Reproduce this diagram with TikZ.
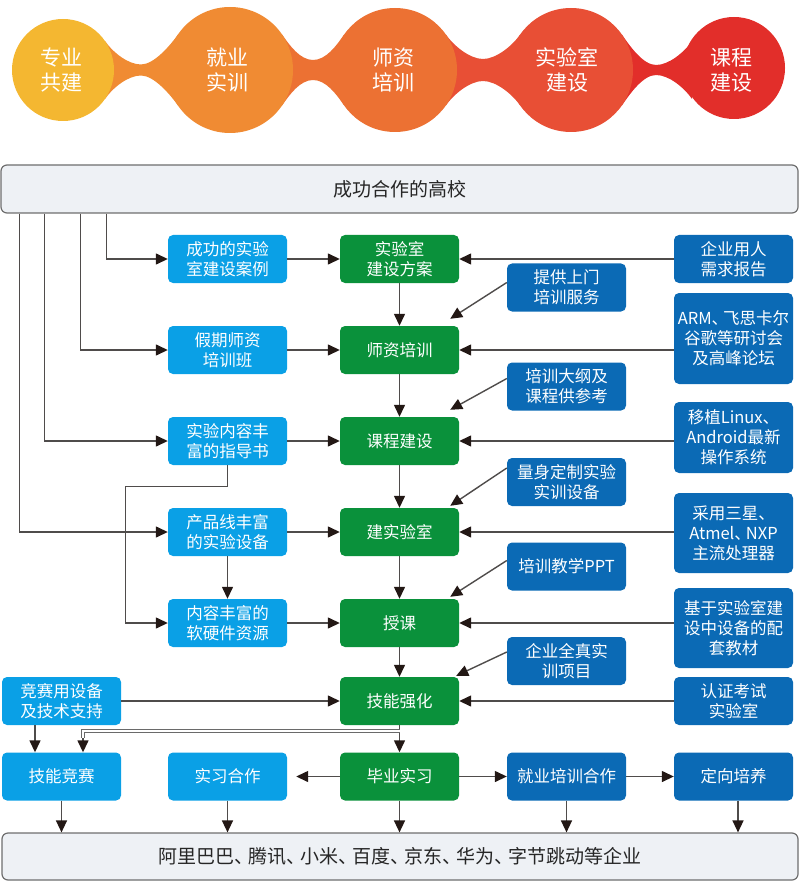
\documentclass[tikz,border=0pt]{standalone}
\usepackage{fontspec}
\newfontfamily\cjk{Noto Sans CJK SC}
\usetikzlibrary{arrows.meta,calc}
\definecolor{cya}{HTML}{F4B731}
\definecolor{cyb}{HTML}{F08B33}
\definecolor{cyc}{HTML}{EC7133}
\definecolor{cyd}{HTML}{E84F35}
\definecolor{cye}{HTML}{E22E2A}
\definecolor{lblue}{HTML}{0AA0E6}
\definecolor{dblue}{HTML}{0B6AB5}
\definecolor{grn}{HTML}{0A913B}
\definecolor{barfill}{HTML}{EEF1F5}
\definecolor{barline}{HTML}{6E6E6E}
\definecolor{lnc}{HTML}{4F4C4B}
\definecolor{tipc}{HTML}{231815}
\definecolor{dblc}{HTML}{6A6A6A}
\newcommand\dun{、\kern-5pt}
\newcommand\bubneck[7]{%
 \pgfmathsetmacro\nkax{#1+#2*cos(35)}%
 \pgfmathsetmacro\nkay{70-#2*sin(35)}%
 \pgfmathsetmacro\nkby{70+#2*sin(35)}%
 \pgfmathsetmacro\nkbx{#3-#4*cos(35)}%
 \pgfmathsetmacro\nkcy{70-#4*sin(35)}%
 \pgfmathsetmacro\nkdy{70+#4*sin(35)}%
 \pgfmathsetmacro\nkt{70-#6}%
 \pgfmathsetmacro\nkb{70+#6}%
 \fill[#7] (\nkax,\nkay) .. controls +(8,11.5) and +(-13,0) .. (#5,\nkt) .. controls +(13,0) and +(-8,11.5) .. (\nkbx,\nkcy) -- (\nkbx,\nkdy) .. controls +(-8,-11.5) and +(13,0) .. (#5,\nkb) .. controls +(-13,0) and +(8,-11.5) .. (\nkax,\nkby) -- cycle;
}
\tikzset{
 box/.style={rounded corners=5pt, minimum width=119pt, minimum height=48pt, inner sep=0pt, text=white, align=center, font=\cjk\fontsize{16.5}{20}\selectfont},
 lbox/.style={box, fill=lblue},
 dbox/.style={box, fill=dblue},
 gbox/.style={box, fill=grn},
 bar/.style={draw=barline, line width=1.2pt, fill=barfill, rounded corners=6pt, inner sep=0pt, font=\cjk\fontsize{19}{22}\selectfont, text=black!85},
 arr/.style={draw=lnc, line width=1.4pt, -{Triangle[length=12pt,width=11pt,color=tipc]}},
 conn/.style={draw=lnc, line width=1.4pt},
 dbl/.style={draw=dblc, line width=1pt, double=white, double distance=1.6pt},
 bub/.style={text=white, align=center, font=\cjk\fontsize{21}{25}\selectfont},
}
\begin{document}
\begin{tikzpicture}[x=1pt,y=-1pt]
\useasboundingbox (0,0) rectangle (800,882);
% ---- top bubbles ----
\bubneck{63}{51}{230}{63}{141}{5.5}{cyb}
\bubneck{230}{63}{395}{62}{313}{10}{cyc}
\bubneck{395}{62}{571}{62}{483}{11}{cyd}
\bubneck{571}{62}{734}{51}{656}{5}{cye}
\fill[cya] (63,70) circle[radius=51pt];
\fill[cyb] (230,70) circle[radius=63pt];
\fill[cyc] (395,70) circle[radius=62pt];
\fill[cyd] (571,70) circle[radius=62pt];
\fill[cye] (734,68) circle[radius=51pt];
\node[bub] (b1) at (61,70) {专业\\共建};
\node[bub] (b2) at (227,70) {就业\\实训};
\node[bub] (b3) at (393,70) {师资\\培训};
\node[bub] (b4) at (567,70) {实验室\\建设};
\node[bub] (b5) at (731,70) {课程\\建设};
% ---- bars ----
\node[bar, minimum width=797pt, minimum height=48pt] (top) at (399.5,189) {成功合作的高校};
\node[bar, minimum width=796pt, minimum height=47pt] (bot) at (400,856.5) {阿里巴巴\dun 腾讯\dun 小米\dun 百度\dun 京东\dun 华为\dun 字节跳动等企业};
% ---- boxes ----
\node[lbox] (L1) at (227.5,259) {成功的实验\\室建设案例};
\node[gbox] (G1) at (399.5,259) {实验室\\建设方案};
\node[dbox] (R1) at (733.5,259) {企业用人\\需求报告};
\node[dbox] (M1) at (566.5,287.5) {提供上门\\培训服务};
\node[dbox, minimum height=91pt] (R2) at (733.5,338.5) {ARM\dun 飞思卡尔\\谷歌等研讨会\\及高峰论坛};
\node[lbox] (L2) at (227.5,350) {假期师资\\培训班};
\node[gbox] (G2) at (399.5,350) {师资培训};
\node[dbox] (M2) at (566.5,386.5) {培训大纲及\\课程供参考};
\node[lbox] (L3) at (227.5,441) {实验内容丰\\富的指导书};
\node[gbox] (G3) at (399.5,441) {课程建设};
\node[dbox, minimum height=71pt] (R3) at (733.5,437.5) {移植Linux、\\Android最新\\操作系统};
\node[dbox] (M3) at (566.5,482) {量身定制实验\\实训设备};
\node[lbox] (L4) at (227.5,532) {产品线丰富\\的实验设备};
\node[gbox] (G4) at (399.5,532) {建实验室};
\node[dbox, minimum height=80pt] (R4) at (733.5,533) {采用三星、\\Atmel\dun NXP\\主流处理器};
\node[dbox] (M4) at (566.5,566.5) {培训教学PPT};
\node[lbox] (L5) at (227.5,623) {内容丰富的\\软硬件资源};
\node[gbox] (G5) at (399.5,623) {授课};
\node[dbox, minimum height=80pt] (R5) at (733.5,628) {基于实验室建\\设中设备的配\\套教材};
\node[dbox] (M5) at (566.5,661) {企业全真实\\训项目};
\node[lbox] (K1) at (61.5,701) {竞赛用设备\\及技术支持};
\node[gbox] (G6) at (399.5,701) {技能强化};
\node[dbox] (R6) at (733.5,701) {认证考试\\实验室};
\node[lbox] (K2) at (61.5,776.5) {技能竞赛};
\node[lbox] (L7) at (227.5,776.5) {实习合作};
\node[gbox] (G7) at (399.5,776.5) {毕业实习};
\node[dbox] (M7) at (566.5,776.5) {就业培训合作};
\node[dbox] (R7) at (733.5,776.5) {定向培养};
% ---- feed lines from top bar ----
\draw[arr] ($(top.south west)+(106,0)$) |- (L1.west);
\draw[arr] ($(top.south west)+(80,0)$) |- (L2.west);
\draw[arr] ($(top.south west)+(44,0)$) |- (L3.west);
\draw[arr] ($(top.south west)+(19,0)$) |- (L4.west);
% ---- left to green ----
\draw[arr] (L1) -- (G1);
\draw[arr] (L2) -- (G2);
\draw[arr] (L3) -- (G3);
\draw[arr] (L4) -- (G4);
\draw[arr] (L5) -- (G5);
\draw[arr] (L4) -- (L5);
\draw[arr] (L3.south) |- ($(L3.south)+(-102,21)$) |- (L5.west);
% ---- right to green ----
\draw[arr] (R1) -- (G1);
\draw[arr] (R2.west |- G2) -- (G2.east);
\draw[arr] (R3.west |- G3) -- (G3.east);
\draw[arr] (R4.west |- G4) -- (G4.east);
\draw[arr] (R5.west |- G5) -- (G5.east);
\draw[arr] (R6) -- (G6);
% ---- diagonals ----
\draw[arr] ($(M1.west)+(0,-5)$) -- ($(G2.north east)+(-9,-7)$);
\draw[arr] ($(M2.west)+(0,-8)$) -- ($(G3.north east)+(-9,-7)$);
\draw[arr] ($(M3.west)+(0,-14)$) -- ($(G4.north east)+(-9,-2)$);
\draw[arr] ($(M4.west)+(0,-6)$) -- ($(G5.north east)+(-9,-2)$);
\draw[arr] ($(M5.west)+(0,-9)$) -- ($(G6.north east)+(-3,-1)$);
% ---- green column ----
\draw[arr] (G1) -- (G2);
\draw[arr] (G2) -- (G3);
\draw[arr] (G3) -- (G4);
\draw[arr] (G4) -- (G5);
\draw[arr] (G5) -- (G6);
\draw[arr] (G6) -- (G7);
% ---- lower part ----
\draw[arr] (K1) -- (G6);
\draw[arr] ($(K1.south)+(-26.5,0)$) -- ($(K2.north)+(-26.5,0)$);
\coordinate (br) at ($(G6.south)+(0,6)$);
\coordinate (brend) at ($(K2.north)+(21.5,-14)$);
\draw[dbl] (br) -| (brend);
\draw[arr] (brend) -- ($(K2.north)+(21.5,0)$);
\draw[arr, shorten >=9pt] (G7) -- (L7);
\draw[arr] (G7) -- (M7);
\draw[arr] (M7) -- (R7);
% ---- to bottom bar ----
\draw[arr] (K2) -- (K2 |- bot.north);
\draw[arr] (L7) -- (L7 |- bot.north);
\draw[arr] (G7) -- (G7 |- bot.north);
\draw[arr] (M7) -- (M7 |- bot.north);
\coordinate (r7b) at ($(R7.south)+(4.5,0)$);
\draw[arr] (r7b) -- (r7b |- bot.north);
\end{tikzpicture}
\end{document}
